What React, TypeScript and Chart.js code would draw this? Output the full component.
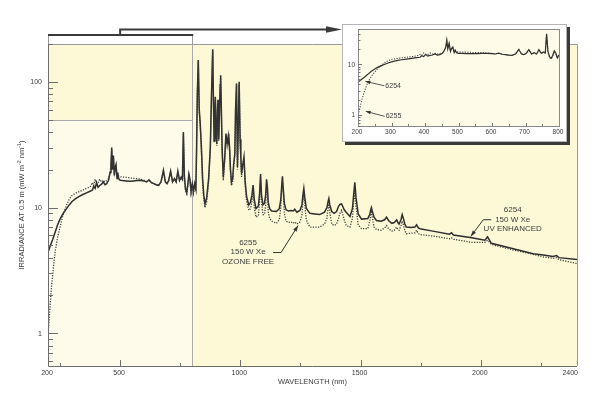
import React, { useEffect, useRef } from "react";
import { Chart, registerables } from "chart.js";

Chart.register(...registerables);

// ---------- DATA ----------
const wavelengthNm = [
  200, 205, 210, 215, 220, 225, 230, 240, 250, 260, 270, 280, 290, 300, 315, 330, 345, 360, 375, 385,
  390, 396, 402, 408, 415, 422, 430, 437, 444, 452, 458, 462, 465, 468, 472, 476, 480, 483, 487, 490,
  494, 500, 510, 525, 540, 555, 570, 585, 600, 610, 620, 630, 640, 650, 660, 670, 680, 688, 695, 702,
  710, 718, 726, 733, 740, 747, 754, 759, 763, 767, 772, 777, 781, 786, 790, 795, 800,
  805, 810, 815, 818, 821, 825, 829, 833, 838, 843, 848, 853, 860, 868, 875, 880, 885, 888, 891, 894,
  896, 899, 902, 905, 907, 910, 913, 916, 918, 921, 924, 929, 935, 940, 945, 948, 951, 955, 959, 963,
  968, 972, 977, 980, 984, 988, 995, 999, 1002, 1005, 1010, 1015, 1020,
  1026, 1035, 1042, 1048, 1053, 1058, 1065, 1075, 1080, 1084,
  1088, 1094, 1100, 1105, 1109, 1112, 1116, 1122, 1130, 1150,
  1162, 1168, 1172, 1175, 1178, 1183, 1190, 1200, 1210, 1220,
  1226, 1235, 1248, 1256, 1260, 1264, 1268, 1274, 1289, 1310,
  1330, 1350, 1360, 1364, 1368, 1372, 1380, 1390, 1400, 1408,
  1414, 1421, 1426, 1432, 1440, 1456, 1466, 1471, 1476, 1481,
  1490, 1504, 1530, 1538, 1542, 1545, 1549, 1556, 1566, 1585,
  1600, 1608, 1616, 1630, 1640, 1645, 1650, 1655, 1660, 1668,
  1673, 1678, 1684, 1690, 1710, 1726, 1733, 1740, 1747, 1800,
  1870, 1878, 1886, 1962, 2017, 2028, 2044, 2135, 2218, 2260,
  2300, 2315, 2325, 2400,
];

// 6254 150 W Xe, UV enhanced (solid)
const irradiance6254 = [
  4.4, 4.7, 5.0, 5.3, 5.6, 6.0, 6.4, 7.3, 8.1, 8.8, 9.4, 10.0, 10.6, 11.2, 11.8, 12.3, 12.7, 13.1, 13.5, 13.8,
  14.8, 14.2, 15.8, 14.5, 15.0, 15.3, 16.0, 15.2, 15.5, 16.5, 19, 22, 30, 20, 26, 18, 21, 22, 17, 19,
  17, 16.5, 16.4, 16.3, 16.2, 16.3, 16.4, 16.5, 16.3, 16.0, 16.6, 15.8, 15.5, 15.2, 15.0, 16.0, 19.8, 16.0, 15.5, 16.5,
  19.5, 16.0, 17.0, 16.0, 19.5, 16.5, 17.5, 16.8, 40, 18, 14, 13.2, 15, 18.5, 17, 13.5, 15.5,
  13.5, 15.5, 14, 30, 80, 149, 60, 47, 30, 17, 12.5, 10.7, 12, 17, 30, 80, 182, 70, 34, 60,
  76, 40, 32, 60, 72, 35, 55, 95, 113, 60, 30, 17.5, 25, 38.8, 32, 35, 38.8, 30, 20, 15.9,
  17, 22, 27, 60, 97, 21, 100, 35, 25, 18.6, 22, 25.3, 16,
  12.2, 10.5, 11, 12.5, 15.1, 11.5, 9.8, 10.3, 13, 18.5,
  12.5, 10.5, 10.8, 12.5, 16.8, 15, 11, 9.8, 9.4, 9.3,
  9.8, 11.5, 15, 17.7, 14.5, 10.8, 9.6, 9.4, 9.5, 9.4,
  9.7, 9.2, 9.5, 10.5, 12.5, 14.2, 12, 9.9, 9.0, 8.9,
  8.8, 9.2, 10, 11, 11.8, 10.5, 9.3, 9.0, 9.3, 10.2,
  10.6, 10.7, 10.2, 9.6, 9.2, 8.5, 9.8, 12.5, 15.9, 12,
  8.9, 8.1, 8.2, 8.8, 9.6, 10, 9.3, 8.4, 7.9, 7.8,
  8.0, 8.4, 7.9, 7.5, 7.6, 7.8, 8.0, 7.6, 7.4, 8.0,
  8.8, 8.2, 7.4, 7.0, 6.95, 7.0, 7.3, 6.9, 6.8, 6.5,
  6.15, 6.3, 6.05, 5.76, 5.5, 5.85, 5.2, 4.7, 4.3, 4.2,
  4.08, 4.15, 4.0, 3.87,
];

// 6255 150 W Xe, ozone free (dotted)
const irradiance6255 = [
  1.0, 1.3, 1.8, 2.4, 3.0, 3.7, 4.5, 5.8, 7.0, 8.4, 9.6, 10.8, 11.8, 12.5, 13.0, 13.4, 13.8, 14.2, 14.6, 15.8,
  15.0, 16.8, 15.5, 15.7, 16.8, 16.0, 16.5, 16.0, 16.4, 17.0, 19, 22, 29, 21, 25, 19, 21, 21, 18, 19,
  17.8, 17.6, 17.5, 17.4, 17.2, 17.1, 17.0, 16.8, 16.5, 16.1, 16.6, 15.8, 15.5, 15.2, 15.0, 16.0, 19.5, 16.0, 15.5, 16.3,
  19.2, 16.0, 16.8, 16.0, 19.2, 16.3, 17.3, 16.6, 39, 17.5, 13.5, 12.8, 14.5, 18, 16.5, 13, 15,
  13, 15, 13.5, 29, 78, 145, 58, 45, 28, 15.5, 11.5, 10, 11, 16, 29, 78, 178, 68, 33, 58,
  74, 39, 31, 58, 70, 34, 53, 92, 110, 58, 28, 16.5, 24, 37.5, 31, 34, 37.5, 29, 19, 15,
  16, 21, 26, 58, 95, 20, 97, 34, 24, 17.5, 21, 24.5, 15,
  11.2, 9.5, 9.8, 11, 14, 10, 8.4, 8.6, 11.5, 17,
  11, 8.8, 8.8, 10.3, 15, 13.5, 9.2, 8.2, 7.8, 7.5,
  8, 10, 13.8, 16.5, 13.3, 9, 7.8, 7.6, 7.7, 7.5,
  7.7, 7.4, 7.7, 8.8, 11, 13, 10.5, 8.0, 7.0, 7.0,
  7.0, 7.4, 8.2, 9.6, 10.7, 9.2, 7.4, 7.2, 7.4, 8.2,
  9, 9.5, 8.8, 8.0, 7.2, 7.0, 8.2, 10.8, 13.3, 10.2,
  7.3, 6.8, 6.8, 7.8, 8.8, 9.2, 8.3, 7.0, 6.7, 6.6,
  6.9, 7.2, 6.8, 6.5, 6.6, 6.8, 7.0, 6.7, 6.6, 7.2,
  7.8, 7.3, 6.6, 6.2, 6.25, 6.3, 6.6, 6.2, 6.1, 5.95,
  5.65, 5.75, 5.6, 5.3, 5.3, 5.5, 5.1, 4.6, 4.25, 4.05,
  3.95, 4.0, 3.85, 3.6,
];

const mainXTickLabels = [200, 500, 1000, 1500, 2000, 2400];
const mainXMajorTicks = [500, 1000, 1500, 2000];
const mainXMinorTicks = [250, 750, 1250, 1750, 2250];
const mainYTickLabels = [1, 10, 100];
const insetXTickLabels = [200, 300, 400, 500, 600, 700, 800];
const insetYTickLabels = [1, 10];

const seriesLabels = {
  s6254: ["6254", "150 W Xe", "UV ENHANCED"],
  s6255: ["6255", "150 W Xe", "OZONE FREE"],
};
const xTitle = "WAVELENGTH (nm)";
const yTitleRuns = [
  { t: "IRRADIANCE AT 0.5 m (mW m" },
  { t: "-2", sup: true },
  { t: " nm" },
  { t: "-1", sup: true },
  { t: ")" },
];

// ---------- STYLE ----------
const FONT = '"Liberation Sans", Arial, Helvetica, sans-serif';
const TEXT = "#3c3c3c";
const LINE = "#2e2e2e";

function minorLogTicks(min: number, max: number) {
  const out: number[] = [];
  for (let d = 0.1; d <= 1000; d *= 10) {
    for (let k = 1; k <= 9; k++) {
      const v = +(k * d).toPrecision(3);
      if (v >= min && v <= max) out.push(v);
    }
  }
  return out;
}

function drawRich(ctx: CanvasRenderingContext2D, runs: any[], cx: number, cy: number, size: number) {
  let total = 0;
  const widths = runs.map((r) => {
    ctx.font = `${r.sup ? size * 0.72 : size}px ${FONT}`;
    const w = ctx.measureText(r.t).width;
    total += w;
    return w;
  });
  let x = cx - total / 2;
  runs.forEach((r, i) => {
    ctx.font = `${r.sup ? size * 0.72 : size}px ${FONT}`;
    ctx.textAlign = "left";
    ctx.fillText(r.t, x, r.sup ? cy - size * 0.38 : cy);
    x += widths[i];
  });
}

function arrowHead(ctx: CanvasRenderingContext2D, fx: number, fy: number, tx: number, ty: number, len: number, half: number) {
  const ang = Math.atan2(ty - fy, tx - fx);
  ctx.beginPath();
  ctx.moveTo(tx, ty);
  ctx.lineTo(tx - len * Math.cos(ang) + half * Math.sin(ang), ty - len * Math.sin(ang) - half * Math.cos(ang));
  ctx.lineTo(tx - len * Math.cos(ang) - half * Math.sin(ang), ty - len * Math.sin(ang) + half * Math.cos(ang));
  ctx.closePath();
  ctx.fill();
}

function leader(ctx: CanvasRenderingContext2D, pts: number[][], len: number, half: number) {
  ctx.beginPath();
  ctx.moveTo(pts[0][0], pts[0][1]);
  for (let i = 1; i < pts.length; i++) ctx.lineTo(pts[i][0], pts[i][1]);
  ctx.stroke();
  const a = pts[pts.length - 2];
  const b = pts[pts.length - 1];
  arrowHead(ctx, a[0], a[1], b[0], b[1], len, half);
}

const r5 = (v: number) => Math.round(v) + 0.5;

const mainDecor = {
  id: "mainDecor",
  beforeDatasetsDraw(chart: any) {
    const { ctx, chartArea: a, scales } = chart;
    const x = scales.x;
    const y = scales.y;
    ctx.save();
    ctx.fillStyle = "#fdf8d6";
    ctx.fillRect(a.left, a.top, a.right - a.left, a.bottom - a.top);
    const x800 = x.getPixelForValue(800);
    const y50 = y.getPixelForValue(50);
    ctx.fillStyle = "#fefbea";
    ctx.fillRect(a.left, y50, x800 - a.left, a.bottom - y50);
    ctx.strokeStyle = "#a9a9a9";
    ctx.lineWidth = 1;
    ctx.beginPath();
    ctx.moveTo(a.left, r5(y50));
    ctx.lineTo(x800, r5(y50));
    ctx.moveTo(r5(x800), a.top);
    ctx.lineTo(r5(x800), a.bottom);
    ctx.stroke();
    ctx.restore();
  },
  afterDatasetsDraw(chart: any) {
    const { ctx, chartArea: a, scales } = chart;
    const x = scales.x;
    const y = scales.y;
    ctx.save();
    // frame
    ctx.lineWidth = 1;
    ctx.strokeStyle = "#9a9a9a";
    ctx.beginPath();
    ctx.moveTo(a.left, r5(a.top));
    ctx.lineTo(r5(a.right), r5(a.top));
    ctx.lineTo(r5(a.right), a.bottom);
    ctx.stroke();
    ctx.strokeStyle = "#6e6e6e";
    ctx.beginPath();
    ctx.moveTo(r5(a.left), a.top);
    ctx.lineTo(r5(a.left), r5(a.bottom));
    ctx.lineTo(a.right, r5(a.bottom));
    ctx.stroke();
    // ticks (inside)
    ctx.beginPath();
    mainXMajorTicks.forEach((v) => {
      const px = r5(x.getPixelForValue(v));
      ctx.moveTo(px, a.bottom);
      ctx.lineTo(px, a.bottom - 6);
    });
    mainXMinorTicks.forEach((v) => {
      const px = r5(x.getPixelForValue(v));
      ctx.moveTo(px, a.bottom);
      ctx.lineTo(px, a.bottom - 3);
    });
    minorLogTicks(y.min, y.max).forEach((v) => {
      const py = r5(y.getPixelForValue(v));
      const major = mainYTickLabels.includes(v);
      ctx.moveTo(a.left, py);
      ctx.lineTo(a.left + (major ? 10 : 5), py);
    });
    ctx.stroke();
    // tick labels
    ctx.fillStyle = TEXT;
    ctx.font = `7px ${FONT}`;
    ctx.textBaseline = "middle";
    mainXTickLabels.forEach((v, i) => {
      const px = x.getPixelForValue(v);
      const last = i === mainXTickLabels.length - 1;
      ctx.textAlign = last ? "right" : "center";
      ctx.fillText(String(v), last ? px + 1 : px - 1, a.bottom + 7.5);
    });
    ctx.textAlign = "right";
    mainYTickLabels.forEach((v) => {
      ctx.fillText(String(v), a.left - 6, y.getPixelForValue(v) + 0.5);
    });
    // axis titles
    ctx.font = `7.5px ${FONT}`;
    ctx.textAlign = "center";
    ctx.fillText(xTitle, x.getPixelForValue(1300), a.bottom + 15.5);
    ctx.save();
    ctx.translate(22, (a.top + a.bottom) / 2);
    ctx.rotate(-Math.PI / 2);
    drawRich(ctx, yTitleRuns, 0, 0, 7.5);
    ctx.restore();

    // bracket + arrow to inset
    const x200 = x.getPixelForValue(200);
    const x500 = x.getPixelForValue(500);
    const x800 = x.getPixelForValue(800);
    ctx.strokeStyle = "#9a9a9a";
    ctx.lineWidth = 1;
    ctx.beginPath();
    ctx.moveTo(r5(x200), a.top - 9);
    ctx.lineTo(r5(x200), a.top);
    ctx.moveTo(r5(x800), a.top - 9);
    ctx.lineTo(r5(x800), a.top);
    ctx.stroke();
    ctx.strokeStyle = "#3a3a3a";
    ctx.fillStyle = "#3a3a3a";
    ctx.lineWidth = 2;
    ctx.beginPath();
    ctx.moveTo(x200, a.top - 9);
    ctx.lineTo(x800 + 1, a.top - 9);
    ctx.moveTo(x500, a.top - 9);
    ctx.lineTo(x500, a.top - 14.5);
    ctx.lineTo(328, a.top - 14.5);
    ctx.stroke();
    arrowHead(ctx, 300, a.top - 14.5, 342, a.top - 14.5, 16, 3.2);

    // annotations
    ctx.lineWidth = 1;
    ctx.strokeStyle = "#333";
    ctx.fillStyle = "#333";
    const t55x = x.getPixelForValue(1240);
    const t55y = y.getPixelForValue(7.2);
    leader(ctx, [[t55x - 25, t55y + 27], [t55x - 17, t55y + 27], [t55x, t55y]], 6, 2);
    const t54x = x.getPixelForValue(1958);
    const t54y = y.getPixelForValue(5.9);
    leader(ctx, [[t54x + 20.5, t54y - 16.7], [t54x + 12.6, t54y - 16.7], [t54x, t54y]], 6, 2);

    ctx.fillStyle = TEXT;
    ctx.font = `8px ${FONT}`;
    ctx.textAlign = "center";
    seriesLabels.s6255.forEach((s, i) => ctx.fillText(s, t55x - 50, t55y + 17 + i * 9.5));
    seriesLabels.s6254.forEach((s, i) => ctx.fillText(s, t54x + 42, t54y - 26.5 + i * 9.5));
    ctx.restore();
  },
};

const insetDecor = {
  id: "insetDecor",
  beforeDraw(chart: any) {
    const { ctx, width, height } = chart;
    ctx.save();
    ctx.fillStyle = "#ffffff";
    ctx.fillRect(0, 0, width, height);
    ctx.strokeStyle = "#b5b5b5";
    ctx.lineWidth = 1;
    ctx.strokeRect(0.5, 0.5, width - 1, height - 1);
    ctx.restore();
  },
  beforeDatasetsDraw(chart: any) {
    const { ctx, chartArea: a } = chart;
    ctx.save();
    ctx.fillStyle = "#fefbe8";
    ctx.fillRect(a.left, a.top, a.right - a.left, a.bottom - a.top);
    ctx.restore();
  },
  afterDatasetsDraw(chart: any) {
    const { ctx, chartArea: a, scales } = chart;
    const x = scales.x;
    const y = scales.y;
    ctx.save();
    ctx.strokeStyle = "#8a8a8a";
    ctx.lineWidth = 1;
    ctx.strokeRect(r5(a.left), r5(a.top), Math.round(a.right - a.left), Math.round(a.bottom - a.top));
    ctx.strokeStyle = "#777";
    ctx.beginPath();
    for (let v = 250; v < 800; v += 50) {
      const px = r5(x.getPixelForValue(v));
      ctx.moveTo(px, a.bottom);
      ctx.lineTo(px, a.bottom - (v % 100 === 0 ? 3 : 2));
    }
    minorLogTicks(y.min, y.max).forEach((v) => {
      const py = r5(y.getPixelForValue(v));
      const major = insetYTickLabels.includes(v);
      ctx.moveTo(a.left, py);
      ctx.lineTo(a.left + (major ? 4 : 2.5), py);
    });
    ctx.stroke();
    ctx.fillStyle = TEXT;
    ctx.font = `6.5px ${FONT}`;
    ctx.textBaseline = "middle";
    ctx.textAlign = "center";
    insetXTickLabels.forEach((v) => ctx.fillText(String(v), x.getPixelForValue(v) - 1, a.bottom + 6));
    ctx.textAlign = "right";
    insetYTickLabels.forEach((v) => ctx.fillText(String(v), a.left - 3, y.getPixelForValue(v) + 0.5));

    // labels with arrows
    ctx.strokeStyle = "#444";
    ctx.fillStyle = "#333";
    ctx.lineWidth = 0.9;
    const a54x = x.getPixelForValue(222);
    const a54y = y.getPixelForValue(4.6);
    leader(ctx, [[a54x + 19, a54y + 4.5], [a54x, a54y]], 5, 1.8);
    const a55x = x.getPixelForValue(223);
    const a55y = y.getPixelForValue(1.17);
    leader(ctx, [[a55x + 19, a55y + 5], [a55x, a55y]], 5, 1.8);
    ctx.fillStyle = TEXT;
    ctx.font = `7px ${FONT}`;
    ctx.textAlign = "left";
    ctx.fillText(seriesLabels.s6254[0], a54x + 20, a54y + 5);
    ctx.fillText(seriesLabels.s6255[0], a55x + 20, a55y + 5);
    ctx.restore();
  },
};

function buildPoints(values: number[], maxNm: number) {
  const pts: { x: number; y: number }[] = [];
  wavelengthNm.forEach((w, i) => {
    if (w <= maxNm) pts.push({ x: w, y: values[i] });
  });
  return pts;
}

function datasets(width: number, maxNm: number) {
  return [
    {
      label: "6255",
      data: buildPoints(irradiance6255, maxNm),
      borderColor: "#3a3a3a",
      borderWidth: width * 0.85,
      borderDash: [1.2, 1.4],
      pointRadius: 0,
      tension: 0,
      fill: false,
    },
    {
      label: "6254",
      data: buildPoints(irradiance6254, maxNm),
      borderColor: LINE,
      borderWidth: width,
      pointRadius: 0,
      tension: 0,
      fill: false,
    },
  ];
}

function hiddenScale(extra: any) {
  return {
    ticks: { display: false },
    grid: { display: false },
    border: { display: false },
    title: { display: false },
    ...extra,
  };
}

export default function App() {
  const mainRef = useRef<HTMLCanvasElement>(null);
  const insetRef = useRef<HTMLCanvasElement>(null);

  useEffect(() => {
    const main = new Chart(mainRef.current as HTMLCanvasElement, {
      type: "line",
      data: { datasets: datasets(1.5, 2400) as any },
      options: {
        animation: false,
        responsive: false,
        events: [],
        layout: { padding: { top: 44, right: 23, left: 0, bottom: 0 } },
        plugins: { legend: { display: false }, tooltip: { enabled: false } },
        scales: {
          x: hiddenScale({
            type: "linear",
            min: 200,
            max: 2400,
            afterFit: (s: any) => {
              s.height = 29;
            },
          }),
          y: hiddenScale({
            type: "logarithmic",
            min: 0.55,
            max: 200,
            afterFit: (s: any) => {
              s.width = 48;
            },
          }),
        },
      } as any,
      plugins: [mainDecor],
    });

    const inset = new Chart(insetRef.current as HTMLCanvasElement, {
      type: "line",
      data: { datasets: datasets(1.2, 800) as any },
      options: {
        animation: false,
        responsive: false,
        events: [],
        layout: { padding: { top: 5, right: 8, left: 0, bottom: 0 } },
        plugins: { legend: { display: false }, tooltip: { enabled: false } },
        scales: {
          x: hiddenScale({
            type: "linear",
            min: 200,
            max: 800,
            afterFit: (s: any) => {
              s.height = 16;
            },
          }),
          y: hiddenScale({
            type: "logarithmic",
            min: 0.6,
            max: 50,
            afterFit: (s: any) => {
              s.width = 16;
            },
          }),
        },
      } as any,
      plugins: [insetDecor],
    });

    return () => {
      main.destroy();
      inset.destroy();
    };
  }, []);

  return (
    <div style={{ position: "absolute", left: 0, top: 0, width: 600, height: 395, background: "#fff" }}>
      <canvas ref={mainRef} width={600} height={395} style={{ position: "absolute", left: 0, top: 0, width: 600, height: 395 }} />
      <div
        style={{
          position: "absolute",
          left: 342,
          top: 24,
          width: 225,
          height: 118,
          boxShadow: "3px 3px 0 #3a3a3a",
        }}
      >
        <canvas ref={insetRef} width={225} height={118} style={{ display: "block", width: 225, height: 118 }} />
      </div>
    </div>
  );
}
